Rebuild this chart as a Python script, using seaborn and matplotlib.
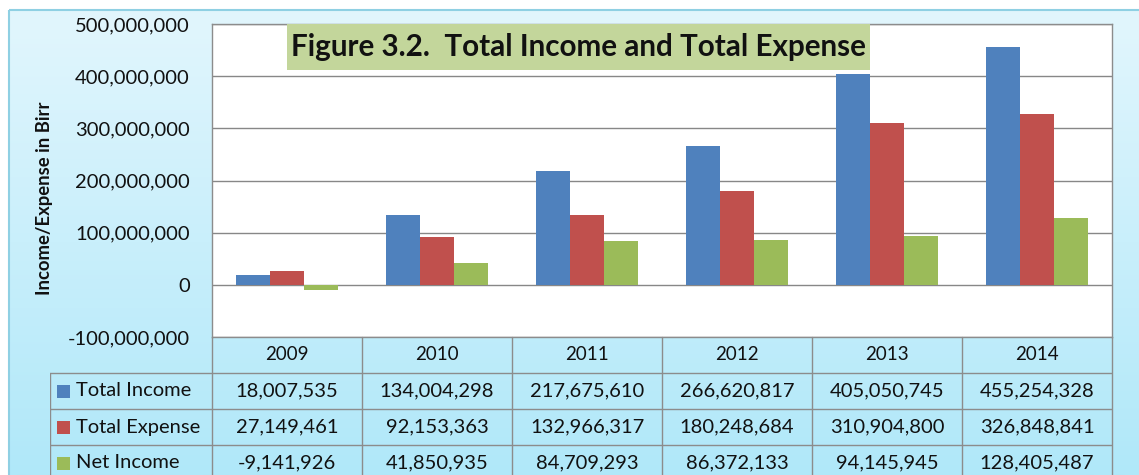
import numpy as np
import pandas as pd
import seaborn as sns
import matplotlib.pyplot as plt
from matplotlib.patches import Rectangle
from matplotlib.colors import LinearSegmentedColormap
from matplotlib.ticker import FuncFormatter

years = ['2009', '2010', '2011', '2012', '2013', '2014']
total_income = [18007535, 134004298, 217675610, 266620817, 405050745, 455254328]
total_expense = [27149461, 92153363, 132966317, 180248684, 310904800, 326848841]
net_income = [-9141926, 41850935, 84709293, 86372133, 94145945, 128405487]
series_names = ['Total Income', 'Total Expense', 'Net Income']
series_colors = ['#4F81BD', '#C0504D', '#9BBB59']
title_text = 'Figure 3.2.  Total Income and Total Expense'
ylabel_text = 'Income/Expense in Birr'

series_values = [total_income, total_expense, net_income]
df = pd.DataFrame({
    'Year': years * 3,
    'Series': [s for s in series_names for _ in years],
    'Value': total_income + total_expense + net_income,
})

sns.set_style('white')
plt.rcParams['font.family'] = ['Lato', 'DejaVu Sans']

W, H = 1139, 475
fig = plt.figure(figsize=(W / 100, H / 100), dpi=100)
fig.patch.set_facecolor('white')

# light blue gradient frame behind everything
bg = fig.add_axes([0, 0, 1, 1], zorder=-10)
bg.set_xlim(0, W)
bg.set_ylim(H, 0)
bg.axis('off')
cmap = LinearSegmentedColormap.from_list('bg', ['#e2f6fd', '#b0e8f9'])
bg.imshow(np.linspace(0, 1, 256).reshape(-1, 1), aspect='auto', cmap=cmap,
          extent=[9, W, H, 10])
bg.add_patch(Rectangle((9, 10), W, H, fill=False, ec='#8fd0e3', lw=1.5))


def px_box(x0, y0, x1, y1):
    return [x0 / W, 1 - y1 / H, (x1 - x0) / W, (y1 - y0) / H]


# bar chart
ax = fig.add_axes(px_box(212, 24, 1112, 337))
ax.set_facecolor('white')
sns.barplot(data=df, x='Year', y='Value', hue='Series', order=years,
            hue_order=series_names, palette=series_colors, width=0.68,
            saturation=1, linewidth=0, legend=False, ax=ax)
ax.set_xlim(-0.5, 5.5)
ax.set_ylim(-100e6, 500e6)
ax.set_yticks(np.arange(-100e6, 500e6 + 1, 100e6))
ax.yaxis.set_major_formatter(FuncFormatter(lambda v, p: f'{v:,.0f}'))
ax.grid(axis='y', color='#878787', lw=1)
ax.set_axisbelow(True)
ax.set_xticks([])
ax.set_xlabel('')
ax.set_ylabel('')
ax.tick_params(axis='y', length=0, pad=16, labelsize=14.5, labelcolor='#111111')
for sp in ax.spines.values():
    sp.set_color('#8c8c8c')
    sp.set_linewidth(1)

# title box
ax.add_patch(Rectangle((0.083, 0.853), 0.648, 0.147, transform=ax.transAxes,
                       fc='#C3D69B', ec='none', zorder=3))
ax.text(0.407, 0.927, title_text, transform=ax.transAxes, ha='center',
        va='center', fontsize=21.3, fontweight='bold', color='#111111', zorder=4)

fig.text(45 / W, 1 - 198 / H, ylabel_text, rotation=90, ha='center',
         va='center', fontsize=13.3, fontweight='bold', color='#111111')

# data table under the chart
row_h = 36
tab = fig.add_axes(px_box(50, 337, 1112, H))
tab.patch.set_alpha(0)
x_left = -0.5 - 162 / 150
tab.set_xlim(x_left, 5.5)
tab.set_ylim((H - 337) / row_h, 0)
tab.axis('off')
grid_c = '#8c8c8c'
for i in range(7):
    tab.plot([i - 0.5, i - 0.5], [0, 4], color=grid_c, lw=1, clip_on=False)
tab.plot([x_left, x_left], [1, 4], color=grid_c, lw=1)
for r in (1, 2, 3):
    tab.plot([x_left, 5.5], [r, r], color=grid_c, lw=1)

for i, yr in enumerate(years):
    tab.text(i, 0.5, yr, ha='center', va='center', fontsize=13.5,
             color='#111111')
for r, (name, vals, col) in enumerate(zip(series_names, series_values,
                                          series_colors), start=1):
    tab.add_patch(Rectangle((x_left + 0.047, r + 0.33), 0.087, 0.36,
                            fc=col, ec='none'))
    tab.text(x_left + 0.175, r + 0.5, name, ha='left', va='center',
             fontsize=14.5, color='#111111')
    for i, v in enumerate(vals):
        tab.text(i, r + 0.5, f'{v:,}', ha='center', va='center',
                 fontsize=14.5, color='#111111')

fig.savefig('out.png', dpi=100)
